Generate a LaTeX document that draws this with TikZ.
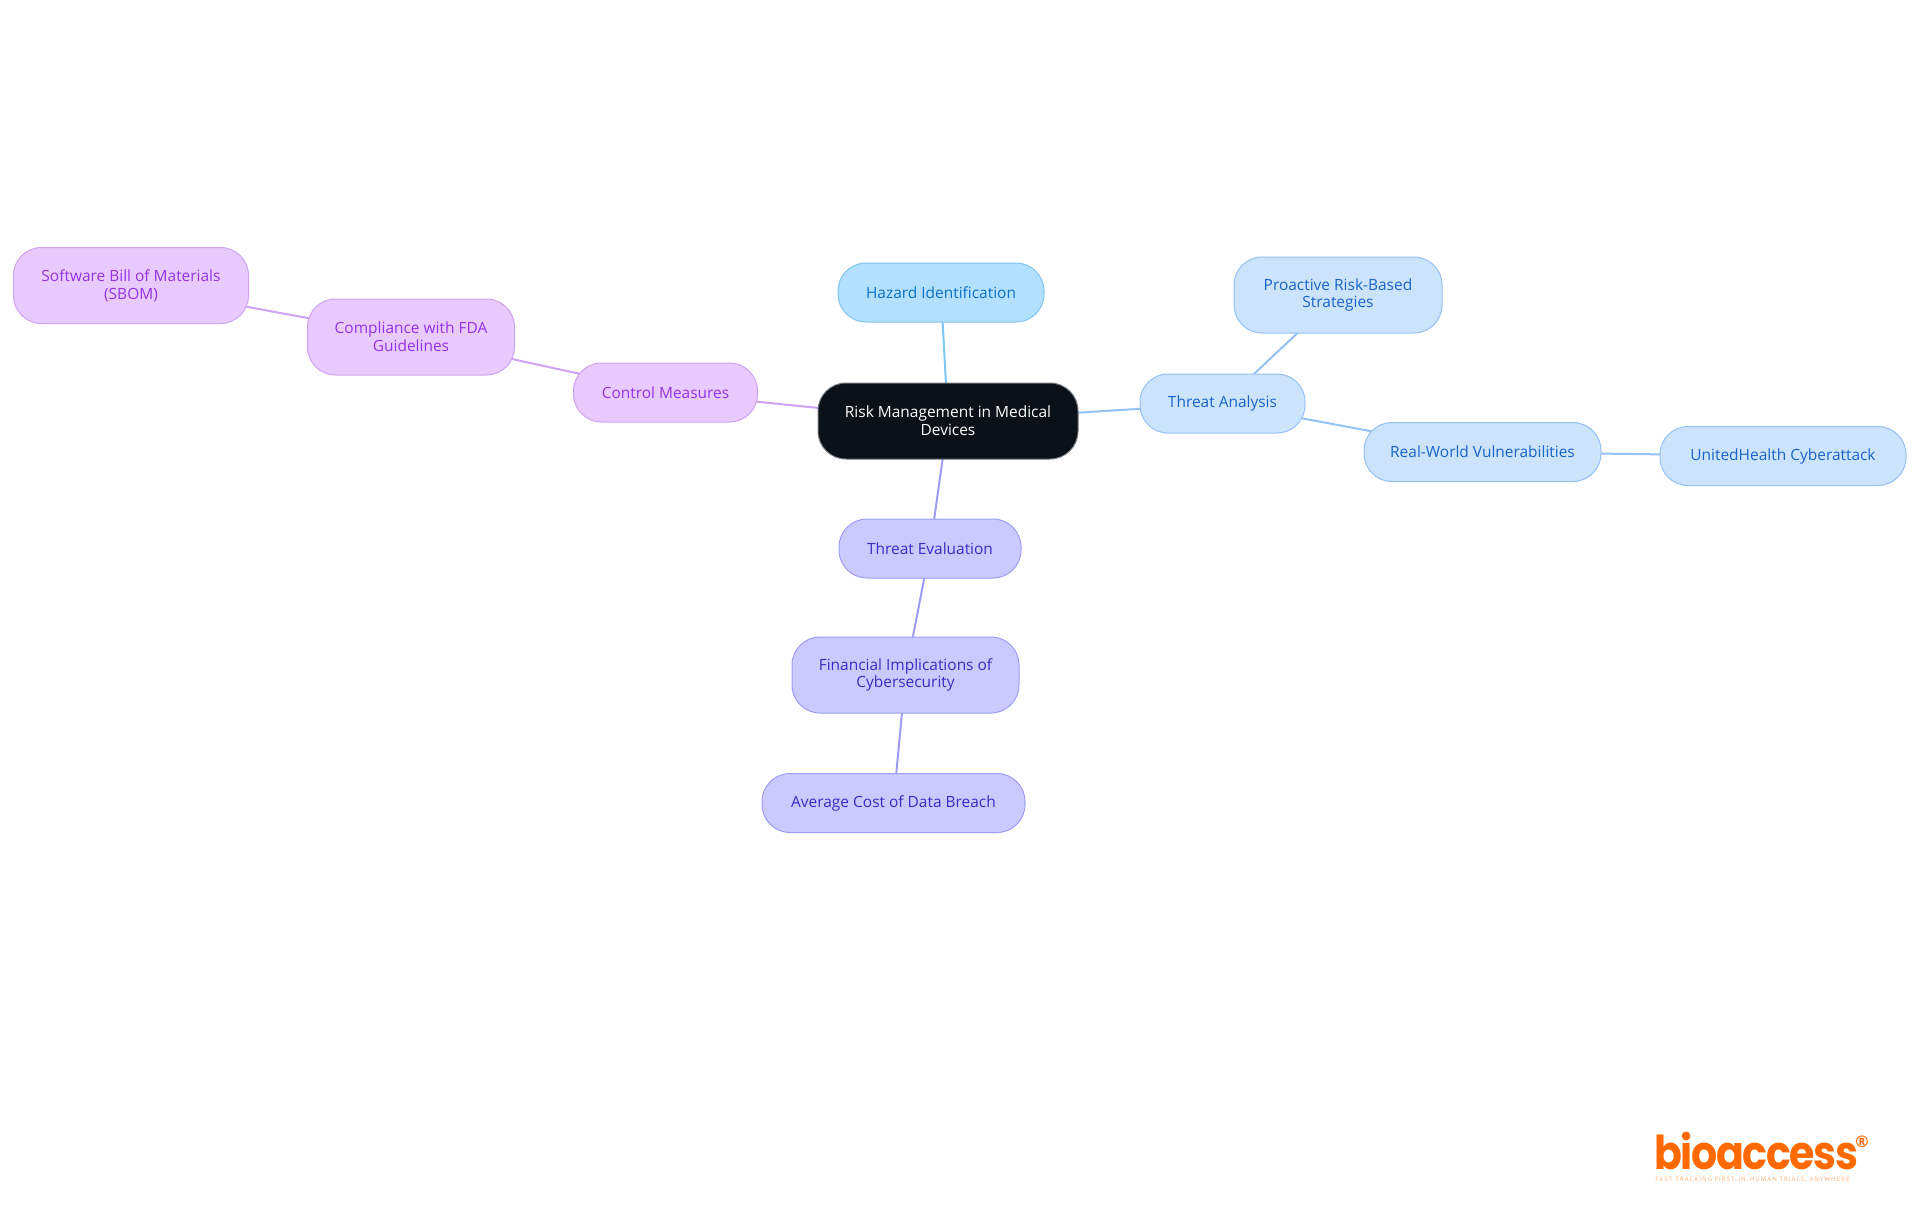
\documentclass[tikz,border=0pt]{standalone}
\usepackage{fontspec}
\setmainfont{Open Sans}
\newfontfamily\logofont[FakeStretch=0.88,LetterSpace=-3]{Poppins}
\newfontfamily\tagfont[LetterSpace=17]{Open Sans}
\usetikzlibrary{backgrounds}

\definecolor{rootfill}{HTML}{0B1119}
\definecolor{rootline}{HTML}{70757B}
\definecolor{hazfill}{HTML}{B3E0FF}
\definecolor{hazline}{HTML}{7EC6F5}
\definecolor{haztext}{HTML}{0C71C3}
\definecolor{anafill}{HTML}{CCE3FC}
\definecolor{analine}{HTML}{94C2F5}
\definecolor{anatext}{HTML}{1A64C8}
\definecolor{evafill}{HTML}{CACAFF}
\definecolor{evaline}{HTML}{9E9CF5}
\definecolor{evatext}{HTML}{3A2CC2}
\definecolor{ctlfill}{HTML}{E8CAFF}
\definecolor{ctlline}{HTML}{CFA2F2}
\definecolor{ctltext}{HTML}{9333E2}
\definecolor{logoorange}{HTML}{FF6A00}

\tikzset{
    size/.style 2 args={minimum width=#1*0.75pt, minimum height=#2*0.75pt},
    topic/.style={draw, rounded corners=21pt, line width=0.75pt, align=center, inner sep=0pt,
        font=\fontsize{11.6}{13.3}\selectfont},
    rootnode/.style={topic, fill=rootfill, draw=rootline, text=white},
    haznode/.style={topic, fill=hazfill, draw=hazline, text=haztext},
    ananode/.style={topic, fill=anafill, draw=analine, text=anatext},
    evanode/.style={topic, fill=evafill, draw=evaline, text=evatext},
    ctlnode/.style={topic, fill=ctlfill, draw=ctlline, text=ctltext},
    link/.style={line width=1.5pt}
}

\begin{document}
\begin{tikzpicture}[x=0.75pt, y=-0.75pt]
    \useasboundingbox (0, 0) rectangle (1920, 1215);

    \node[rootnode, size={260}{76}] (risk) at (948, 421) {Risk Management in Medical\\Devices};

    \node[haznode, size={206}{59}] (hazard) at (941, 292.5) {Hazard Identification};

    \node[ananode, size={165}{59}] (analysis) at (1222.5, 403.5) {Threat Analysis};
    \node[ananode, size={208}{76}] (proactive) at (1338, 295) {Proactive Risk-Based\\Strategies};
    \node[ananode, size={237}{59}] (realworld) at (1482.5, 452) {Real-World Vulnerabilities};
    \node[ananode, size={246}{59}] (united) at (1783, 456) {UnitedHealth Cyberattack};

    \node[evanode, size={182}{59}] (evaluation) at (930, 548.5) {Threat Evaluation};
    \node[evanode, size={227}{76}] (financial) at (905.5, 675) {Financial Implications of\\Cybersecurity};
    \node[evanode, size={263}{59}] (breach) at (893.5, 803) {Average Cost of Data Breach};

    \node[ctlnode, size={184}{59}] (control) at (665.5, 392.5) {Control Measures};
    \node[ctlnode, size={207}{76}] (compliance) at (411, 337) {Compliance with FDA\\Guidelines};
    \node[ctlnode, size={235}{76}] (sbom) at (131, 285.5) {Software Bill of Materials\\(SBOM)};

    \begin{scope}[on background layer]
        \draw[link, color=hazline] (risk.center) -- (hazard.center);
        \draw[link, color=analine] (risk.center) -- (analysis.center);
        \draw[link, color=analine] (analysis.center) -- (proactive.center);
        \draw[link, color=analine] (analysis.center) -- (realworld.center);
        \draw[link, color=analine] (realworld.center) -- (united.center);
        \draw[link, color=evaline] (risk.center) -- (evaluation.center);
        \draw[link, color=evaline] (evaluation.center) -- (financial.center);
        \draw[link, color=evaline] (financial.center) -- (breach.center);
        \draw[link, color=ctlline] (risk.center) -- (control.center);
        \draw[link, color=ctlline] (control.center) -- (compliance.center);
        \draw[link, color=ctlline] (compliance.center) -- (sbom.center);
    \end{scope}

    % logo
    \node[inner sep=0pt, anchor=base west, text=logoorange, font=\logofont\bfseries\fontsize{35}{35}\selectfont] (logo) at (1654, 1169) {bioaccess};
    \node[inner sep=0pt, text=logoorange, font=\bfseries\fontsize{12}{12}\selectfont] (regmark) at (1862, 1142) {®};
    \node[inner sep=0pt, anchor=base west, text=logoorange!55, font=\tagfont\fontsize{4.6}{5}\selectfont] (tagline) at (1655, 1181) {FAST-TRACKING FIRST-IN-HUMAN TRIALS, ANYWHERE};
\end{tikzpicture}
\end{document}
